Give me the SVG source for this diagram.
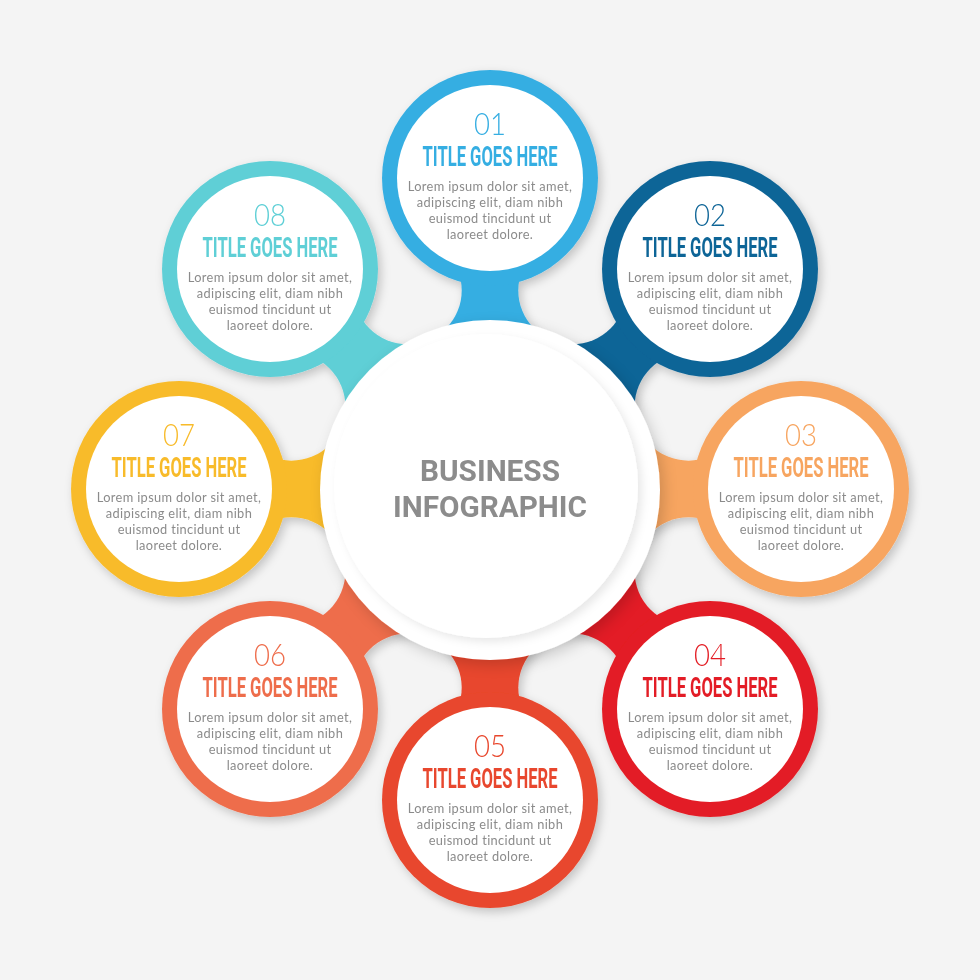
<svg xmlns="http://www.w3.org/2000/svg" width="980" height="980" viewBox="0 0 980 980">
<defs>
<style>
.num{font-family:Lato,'Open Sans','Liberation Sans',sans-serif;font-weight:300;font-size:31px;text-anchor:middle}
.ttl{font-family:Roboto,'Liberation Sans',sans-serif;font-weight:700;font-size:27px;text-anchor:middle}
.txt{font-family:Lato,'Open Sans','Liberation Sans',sans-serif;font-size:12.8px;letter-spacing:0.35px;fill:#8b8b8b;text-anchor:middle}
.inner{fill:#ffffff}
.ctr{font-family:Roboto,'Liberation Sans',sans-serif;font-weight:700;font-size:30px;fill:#8c8c8c;text-anchor:middle}
</style>
<filter id="sh" x="-10%" y="-10%" width="120%" height="120%">
<feDropShadow dx="3" dy="4" stdDeviation="5" flood-color="#000" flood-opacity="0.2"/>
</filter>
<filter id="shc" x="-20%" y="-20%" width="140%" height="140%">
<feDropShadow dx="4" dy="5" stdDeviation="7" flood-color="#000" flood-opacity="0.16"/>
</filter>
<filter id="shi" x="-20%" y="-20%" width="140%" height="140%">
<feDropShadow dx="4" dy="4" stdDeviation="4" flood-color="#000" flood-opacity="0.09"/>
</filter>
<mask id="gaps" maskUnits="userSpaceOnUse" x="0" y="0" width="980" height="980">
<rect x="0" y="0" width="980" height="980" fill="#fff"/>
<g fill="#000">
<circle cx="572.3" cy="290.4" r="54"/>
<circle cx="688.6" cy="406.7" r="54"/>
<circle cx="688.6" cy="571.3" r="54"/>
<circle cx="572.3" cy="687.6" r="54"/>
<circle cx="407.7" cy="687.6" r="54"/>
<circle cx="291.4" cy="571.3" r="54"/>
<circle cx="291.4" cy="406.7" r="54"/>
<circle cx="407.7" cy="290.4" r="54"/>
</g>
</mask>
<path id="neck" d="M432.6 350.4 L389.7 246.9 L590.3 246.9 L547.4 350.4 Z"/>
</defs>
<rect width="980" height="980" fill="#f4f4f4"/>
<g id="diagram" filter="url(#sh)">
<g id="connectors" mask="url(#gaps)">
<use href="#neck" fill="#36aee2"/>
<use href="#neck" fill="#0f6597" transform="rotate(45 490 489)"/>
<use href="#neck" fill="#f7a560" transform="rotate(90 490 489)"/>
<use href="#neck" fill="#e31e25" transform="rotate(135 490 489)"/>
<use href="#neck" fill="#e8472d" transform="rotate(180 490 489)"/>
<use href="#neck" fill="#ee6d4c" transform="rotate(225 490 489)"/>
<use href="#neck" fill="#f8bb2b" transform="rotate(270 490 489)"/>
<use href="#neck" fill="#5ecfd6" transform="rotate(315 490 489)"/>
</g>
<g id="node01">
<circle cx="490" cy="178" r="108" fill="#36aee2"/>
<circle class="inner" cx="490" cy="178" r="93"/>
<text class="num" x="490" y="135" fill="#36aee2" textLength="32" lengthAdjust="spacingAndGlyphs">01</text>
<text class="ttl" x="490" y="166" fill="#36aee2" textLength="135" lengthAdjust="spacingAndGlyphs">TITLE GOES HERE</text>
<text class="txt" x="490" y="191">Lorem ipsum dolor sit amet,</text>
<text class="txt" x="490" y="207">adipiscing elit, diam nibh</text>
<text class="txt" x="490" y="223">euismod tincidunt ut</text>
<text class="txt" x="490" y="239">laoreet dolore.</text>
</g>
<g id="node02">
<circle cx="710" cy="269" r="108" fill="#0f6597"/>
<circle class="inner" cx="710" cy="269" r="93"/>
<text class="num" x="710" y="226" fill="#0f6597" textLength="32" lengthAdjust="spacingAndGlyphs">02</text>
<text class="ttl" x="710" y="257" fill="#0f6597" textLength="135" lengthAdjust="spacingAndGlyphs">TITLE GOES HERE</text>
<text class="txt" x="710" y="282">Lorem ipsum dolor sit amet,</text>
<text class="txt" x="710" y="298">adipiscing elit, diam nibh</text>
<text class="txt" x="710" y="314">euismod tincidunt ut</text>
<text class="txt" x="710" y="330">laoreet dolore.</text>
</g>
<g id="node03">
<circle cx="801" cy="489" r="108" fill="#f7a560"/>
<circle class="inner" cx="801" cy="489" r="93"/>
<text class="num" x="801" y="446" fill="#f7a560" textLength="32" lengthAdjust="spacingAndGlyphs">03</text>
<text class="ttl" x="801" y="477" fill="#f7a560" textLength="135" lengthAdjust="spacingAndGlyphs">TITLE GOES HERE</text>
<text class="txt" x="801" y="502">Lorem ipsum dolor sit amet,</text>
<text class="txt" x="801" y="518">adipiscing elit, diam nibh</text>
<text class="txt" x="801" y="534">euismod tincidunt ut</text>
<text class="txt" x="801" y="550">laoreet dolore.</text>
</g>
<g id="node04">
<circle cx="710" cy="709" r="108" fill="#e31e25"/>
<circle class="inner" cx="710" cy="709" r="93"/>
<text class="num" x="710" y="666" fill="#e31e25" textLength="32" lengthAdjust="spacingAndGlyphs">04</text>
<text class="ttl" x="710" y="697" fill="#e31e25" textLength="135" lengthAdjust="spacingAndGlyphs">TITLE GOES HERE</text>
<text class="txt" x="710" y="722">Lorem ipsum dolor sit amet,</text>
<text class="txt" x="710" y="738">adipiscing elit, diam nibh</text>
<text class="txt" x="710" y="754">euismod tincidunt ut</text>
<text class="txt" x="710" y="770">laoreet dolore.</text>
</g>
<g id="node05">
<circle cx="490" cy="800" r="108" fill="#e8472d"/>
<circle class="inner" cx="490" cy="800" r="93"/>
<text class="num" x="490" y="757" fill="#e8472d" textLength="32" lengthAdjust="spacingAndGlyphs">05</text>
<text class="ttl" x="490" y="788" fill="#e8472d" textLength="135" lengthAdjust="spacingAndGlyphs">TITLE GOES HERE</text>
<text class="txt" x="490" y="813">Lorem ipsum dolor sit amet,</text>
<text class="txt" x="490" y="829">adipiscing elit, diam nibh</text>
<text class="txt" x="490" y="845">euismod tincidunt ut</text>
<text class="txt" x="490" y="861">laoreet dolore.</text>
</g>
<g id="node06">
<circle cx="270" cy="709" r="108" fill="#ee6d4c"/>
<circle class="inner" cx="270" cy="709" r="93"/>
<text class="num" x="270" y="666" fill="#ee6d4c" textLength="32" lengthAdjust="spacingAndGlyphs">06</text>
<text class="ttl" x="270" y="697" fill="#ee6d4c" textLength="135" lengthAdjust="spacingAndGlyphs">TITLE GOES HERE</text>
<text class="txt" x="270" y="722">Lorem ipsum dolor sit amet,</text>
<text class="txt" x="270" y="738">adipiscing elit, diam nibh</text>
<text class="txt" x="270" y="754">euismod tincidunt ut</text>
<text class="txt" x="270" y="770">laoreet dolore.</text>
</g>
<g id="node07">
<circle cx="179" cy="489" r="108" fill="#f8bb2b"/>
<circle class="inner" cx="179" cy="489" r="93"/>
<text class="num" x="179" y="446" fill="#f8bb2b" textLength="32" lengthAdjust="spacingAndGlyphs">07</text>
<text class="ttl" x="179" y="477" fill="#f8bb2b" textLength="135" lengthAdjust="spacingAndGlyphs">TITLE GOES HERE</text>
<text class="txt" x="179" y="502">Lorem ipsum dolor sit amet,</text>
<text class="txt" x="179" y="518">adipiscing elit, diam nibh</text>
<text class="txt" x="179" y="534">euismod tincidunt ut</text>
<text class="txt" x="179" y="550">laoreet dolore.</text>
</g>
<g id="node08">
<circle cx="270" cy="269" r="108" fill="#5ecfd6"/>
<circle class="inner" cx="270" cy="269" r="93"/>
<text class="num" x="270" y="226" fill="#5ecfd6" textLength="32" lengthAdjust="spacingAndGlyphs">08</text>
<text class="ttl" x="270" y="257" fill="#5ecfd6" textLength="135" lengthAdjust="spacingAndGlyphs">TITLE GOES HERE</text>
<text class="txt" x="270" y="282">Lorem ipsum dolor sit amet,</text>
<text class="txt" x="270" y="298">adipiscing elit, diam nibh</text>
<text class="txt" x="270" y="314">euismod tincidunt ut</text>
<text class="txt" x="270" y="330">laoreet dolore.</text>
</g>
</g>
<g id="center">
<circle cx="490" cy="490" r="170" fill="#ffffff" filter="url(#shc)"/>
<circle cx="486" cy="486" r="152" fill="#ffffff" filter="url(#shi)"/>
<text class="ctr" x="490" y="481" textLength="140" lengthAdjust="spacingAndGlyphs">BUSINESS</text>
<text class="ctr" x="490" y="517" textLength="194" lengthAdjust="spacingAndGlyphs">INFOGRAPHIC</text>
</g>
</svg>
